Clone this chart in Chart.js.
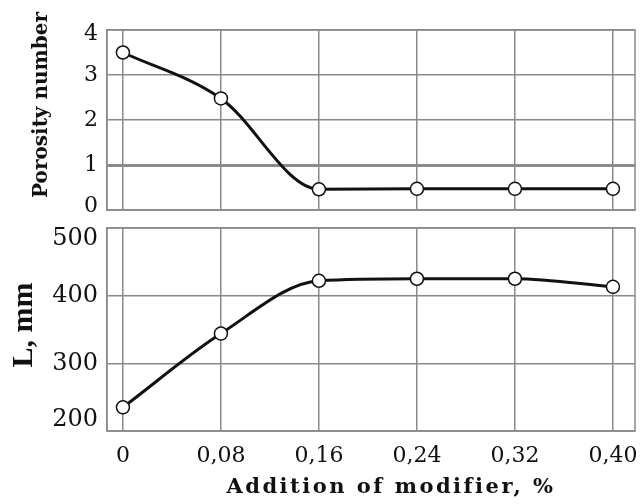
<!DOCTYPE html>
<html>
<head>
<meta charset="utf-8">
<script src="https://cdn.jsdelivr.net/npm/chart.js@4"></script>
<style>
  body { margin: 0; background: #fff; }
  canvas { position: absolute; left: 0; }
  #topChart { top: 0; }
  #bottomChart { top: 220px; }
</style>
</head>
<body>
<canvas id="topChart" width="643" height="220"></canvas>
<canvas id="bottomChart" width="643" height="284"></canvas>
<script>
const xValues = [0, 0.08, 0.16, 0.24, 0.32, 0.40];
const xTickLabels = ['0', '0,08', '0,16', '0,24', '0,32', '0,40'];
const porosity = [3.5, 2.48, 0.46, 0.47, 0.47, 0.47];
const lengthMm = [235, 344, 422, 425, 425, 413];
const porosityTicks = [0, 1, 2, 3, 4];
const lengthTicks = [200, 300, 400, 500];

const gridColor = '#8a8a8a';
const inkColor = '#111';

// frame round the plot area + free placed axis titles
const framePlugin = {
  id: 'frame',
  beforeDraw(chart, args, opts) {
    // pull the first and last y labels inside the frame, like the original figure
    const items = chart.scales.y.getLabelItems(chart.chartArea);
    if (!items.length || items._nudged) return;
    items[0].options.translation[1] -= opts.edgeInset;
    items[items.length - 1].options.translation[1] += opts.edgeInset;
    items._nudged = true;
  },
  afterDraw(chart, args, opts) {
    const a = chart.chartArea;
    const c = chart.ctx;
    c.save();
    c.strokeStyle = gridColor;
    c.lineWidth = 1.5;
    c.strokeRect(a.left, a.top, a.right - a.left, a.bottom - a.top);
    (opts.labels || []).forEach(l => {
      c.save();
      c.translate(l.x, l.y);
      c.rotate(l.rotate || 0);
      c.font = l.font;
      c.letterSpacing = l.spacing || '0px';
      c.fillStyle = inkColor;
      c.textAlign = 'center';
      c.textBaseline = 'middle';
      c.fillText(l.text, 0, 0);
      c.restore();
    });
    c.restore();
  }
};

function points(ys) {
  return xValues.map((x, i) => ({x: x, y: ys[i]}));
}

function lineDataset(ys) {
  return {
    data: points(ys),
    borderColor: inkColor,
    borderWidth: 3,
    cubicInterpolationMode: 'monotone',
    pointRadius: 6.5,
    pointBorderWidth: 1.5,
    pointBackgroundColor: '#fff',
    pointBorderColor: inkColor
  };
}

function xScale(showLabels, height) {
  return {
    type: 'linear',
    min: -0.013,
    max: 0.418,
    afterBuildTicks: s => { s.ticks = xValues.map(v => ({value: v})); },
    afterFit: s => { s.height = height; s.paddingLeft = 0; s.paddingRight = 0; },
    grid: { color: gridColor, lineWidth: 1.5, drawTicks: false },
    border: { color: gridColor, width: 1.5 },
    ticks: {
      display: showLabels,
      padding: 12,
      color: inkColor,
      font: { family: 'DejaVu Serif', size: 22 },
      callback: (v, i) => xTickLabels[i]
    }
  };
}

function yScale(min, max, tickValues, fontSize, gridWidth) {
  return {
    min: min,
    max: max,
    afterBuildTicks: s => { s.ticks = tickValues.map(v => ({value: v})); },
    afterFit: s => { s.width = 107; s.paddingTop = 0; s.paddingBottom = 0; },
    grid: { color: gridColor, lineWidth: gridWidth, drawTicks: false },
    border: { color: gridColor, width: 1.5 },
    ticks: {
      padding: 9,
      color: inkColor,
      font: { family: 'DejaVu Serif', size: fontSize }
    }
  };
}

window.onload = () => {
  new Chart(document.getElementById('topChart'), {
    type: 'line',
    data: { datasets: [lineDataset(porosity)] },
    plugins: [framePlugin],
    options: {
      responsive: false,
      animation: false,
      layout: { padding: { top: 30, right: 5, bottom: 10, left: 0 } },
      scales: {
        x: xScale(false, 0),
        y: yScale(0, 4, porosityTicks, 22, ctx => ctx.tick && ctx.tick.value === 1 ? 3 : 1.5)
      },
      plugins: {
        legend: { display: false },
        tooltip: { enabled: false },
        frame: {
          edgeInset: 4,
          labels: [
            { text: 'Porosity number', x: 42, y: 105, rotate: -Math.PI / 2, font: 'bold 20px "DejaVu Serif"' }
          ]
        }
      }
    }
  });

  new Chart(document.getElementById('bottomChart'), {
    type: 'line',
    data: { datasets: [lineDataset(lengthMm)] },
    plugins: [framePlugin],
    options: {
      responsive: false,
      animation: false,
      layout: { padding: { top: 7, right: 5, bottom: 0, left: 0 } },
      scales: {
        x: xScale(true, 73),
        y: yScale(200, 500, lengthTicks, 24, 1.5)
      },
      plugins: {
        legend: { display: false },
        tooltip: { enabled: false },
        frame: {
          edgeInset: 11,
          labels: [
            { text: 'L, mm', x: 24, y: 105, rotate: -Math.PI / 2, font: 'bold 30px "Liberation Serif"' },
            { text: 'Addition of modifier, %', x: 391, y: 268, font: 'bold 21px "DejaVu Serif"', spacing: '2.5px' }
          ]
        }
      }
    }
  });
};
</script>
</body>
</html>
